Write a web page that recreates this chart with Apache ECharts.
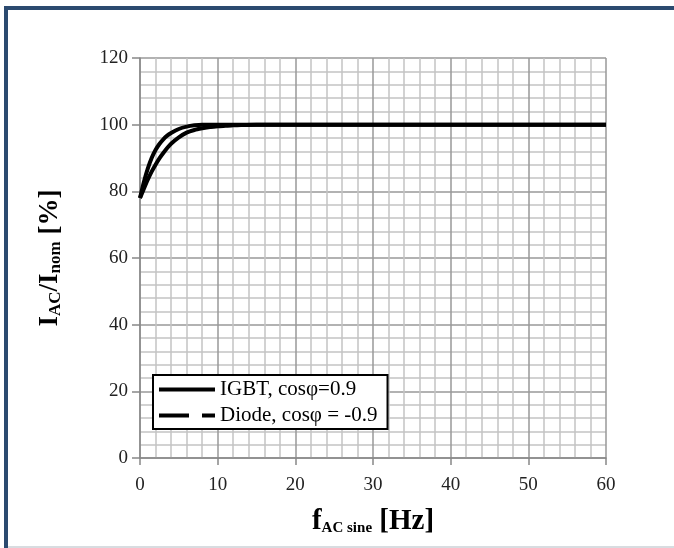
<!DOCTYPE html>
<html><head><meta charset="utf-8">
<script src="https://cdn.jsdelivr.net/npm/echarts@6/dist/echarts.min.js"></script>
<style>html,body{margin:0;padding:0;background:#fff}#c{width:674px;height:548px}</style>
</head><body><div id="c"></div>
<script>
const freqs = [0, 0.5, 1, 1.5, 2, 2.5, 3, 3.5, 4, 5, 6, 7, 8, 9, 10, 11, 12, 13, 15, 20, 30, 40, 50, 60];
const igbt  = [78, 82.8, 86.8, 90, 92.4, 94.2, 95.6, 96.7, 97.5, 98.7, 99.4, 99.8, 100, 100, 100, 100, 100, 100, 100, 100, 100, 100, 100, 100];
const diode = [78, 80.8, 83.5, 85.9, 88, 89.9, 91.5, 93, 94.3, 96.2, 97.6, 98.4, 98.9, 99.3, 99.5, 99.7, 99.8, 99.9, 100, 100, 100, 100, 100, 100];
const seriesNames = ['IGBT, cosφ=0.9', 'Diode, cosφ = -0.9'];
const xTicks = [0, 10, 20, 30, 40, 50, 60];
const yTicks = [0, 20, 40, 60, 80, 100, 120];

const chart = echarts.init(document.getElementById('c'));
const serif = 'Liberation Serif, Times New Roman, serif';
const mk = arr => freqs.map((f, i) => [f, arr[i]]);
chart.setOption({
  animation: false,
  backgroundColor: '#fff',
  graphic: [
    {type: 'rect', shape: {x: 4, y: 6, width: 4, height: 542}, style: {fill: '#2b4a6f'}},
    {type: 'rect', shape: {x: 4, y: 6, width: 670, height: 4}, style: {fill: '#2b4a6f'}},
    {type: 'rect', shape: {x: 8, y: 546, width: 666, height: 2}, style: {fill: '#d8dce0'}}
  ],
  grid: {left: 140, right: 68, top: 58, bottom: 90, show: false},
  legend: {
    orient: 'vertical', left: 153, top: 375,
    backgroundColor: '#fff', borderColor: '#000', borderWidth: 2,
    padding: [4, 10, 3, 6], itemGap: 5,
    itemWidth: 56, itemHeight: 4,
    textStyle: {fontFamily: serif, fontSize: 21, color: '#000', padding: [0, 0, 0, 0]},
    data: [
      {name: seriesNames[0], icon: 'rect'},
      {name: seriesNames[1], icon: 'path://M0,0H30V4H0Z M43,0H56V4H43Z'}
    ]
  },
  xAxis: {
    type: 'value', min: 0, max: 60, interval: 10,
    name: '{b|f}{s|AC sine}{b| [Hz]}', nameLocation: 'middle', nameGap: 48,
    nameTextStyle: {rich: {
      b: {fontFamily: serif, fontSize: 29, fontWeight: 'bold', color: '#000', verticalAlign: 'bottom', lineHeight: 30},
      s: {fontFamily: serif, fontSize: 15, fontWeight: 'bold', color: '#000', verticalAlign: 'bottom', lineHeight: 24}
    }},
    axisLine: {show: true, lineStyle: {color: '#888', width: 1.5}},
    axisTick: {show: true, length: 7, lineStyle: {color: '#888', width: 1.5}},
    axisLabel: {fontFamily: serif, fontSize: 19, color: '#222', margin: 18},
    splitLine: {show: true, lineStyle: {color: '#999', width: 1.5}},
    minorTick: {show: false, splitNumber: 5},
    minorSplitLine: {show: true, lineStyle: {color: '#c4c4c4', width: 1.5}}
  },
  yAxis: {
    type: 'value', min: 0, max: 120, interval: 20,
    name: '{b|I}{s|AC}{b|/I}{s|nom}{b| [%]}', nameLocation: 'middle', nameGap: 76, nameRotate: 90,
    nameTextStyle: {rich: {
      b: {fontFamily: serif, fontSize: 27, fontWeight: 'bold', color: '#000', verticalAlign: 'bottom', lineHeight: 28},
      s: {fontFamily: serif, fontSize: 17, fontWeight: 'bold', color: '#000', verticalAlign: 'bottom', lineHeight: 22}
    }},
    axisLine: {show: true, lineStyle: {color: '#888', width: 1.5}},
    axisTick: {show: true, length: 8, lineStyle: {color: '#888', width: 1.5}},
    axisLabel: {fontFamily: serif, fontSize: 19, color: '#222', margin: 12},
    splitLine: {show: true, lineStyle: {color: '#999', width: 1.5}},
    minorTick: {show: false, splitNumber: 5},
    minorSplitLine: {show: true, lineStyle: {color: '#c4c4c4', width: 1.5}}
  },
  series: [
    {name: seriesNames[0], type: 'line', data: mk(igbt), showSymbol: false, smooth: 0.2,
     lineStyle: {color: '#000', width: 4}, itemStyle: {color: '#000'}, z: 3},
    {name: seriesNames[1], type: 'line', data: mk(diode), showSymbol: false, smooth: 0.2,
     lineStyle: {color: '#000', width: 4}, itemStyle: {color: '#000'}, z: 3}
  ]
});
</script></body></html>
